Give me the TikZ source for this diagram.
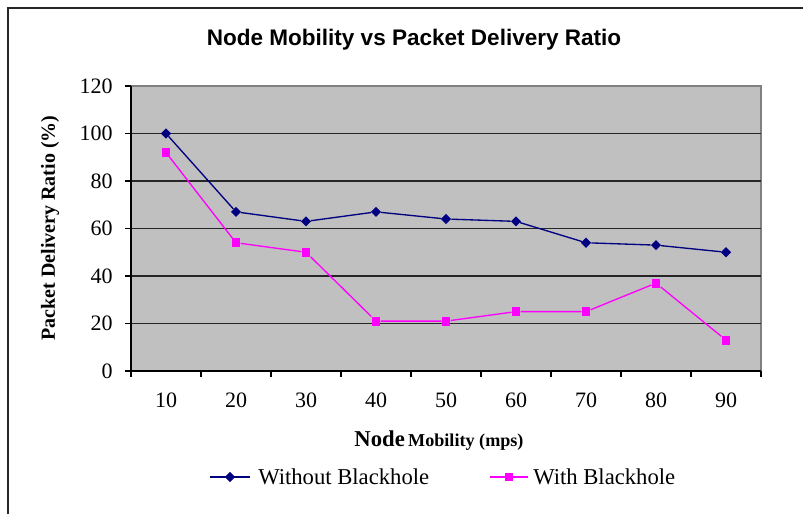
\documentclass[tikz,border=0pt]{standalone}
\usepackage{fontspec}
\setmainfont{Liberation Serif}
\newfontfamily\arialfont{Liberation Sans}
\usetikzlibrary{shapes.geometric}
\definecolor{pdrnavy}{RGB}{0,0,128}
\definecolor{pdrpink}{RGB}{255,0,255}
\definecolor{pdrgrey}{RGB}{192,192,192}
\definecolor{pdredge}{RGB}{128,128,128}
\begin{document}
\begin{tikzpicture}[x=0.75pt, y=-0.75pt,
  ylab/.style={font=\fontsize{16.5}{18}\selectfont, anchor=east, inner sep=0pt},
  xlab/.style={font=\fontsize{16.5}{18}\selectfont, inner sep=0pt},
  legtext/.style={font=\fontsize{17}{19}\selectfont, anchor=west, inner sep=0pt},
  grid/.style={line width=0.8pt, black!85},
  axis/.style={line width=0.8pt, black},
  wmark/.style={diamond, fill=pdrnavy, inner sep=0pt, minimum size=7.8pt},
  bmark/.style={rectangle, fill=pdrpink, inner sep=0pt, minimum size=6.6pt},
  wline/.style={line width=1pt, pdrnavy},
  bline/.style={line width=1pt, pdrpink}]
\useasboundingbox (0,0) rectangle (803,514);
\draw[line width=1.6pt, black!85] (8,514) -- (8,8) -- (803,8);
% title and axis titles
\node[font=\arialfont\bfseries\fontsize{16.9}{19}\selectfont] (title) at (414,40)
  {Node Mobility vs Packet Delivery Ratio};
\node[font=\bfseries\fontsize{15}{17}\selectfont, rotate=90] (ytitle) at (50,228)
  {Packet Delivery Ratio (\%)};
\node[font=\bfseries] (xtitle) at (439,441)
  {{\fontsize{17}{20}\selectfont Node} {\fontsize{13.6}{15}\selectfont Mobility (mps)}};
% plot area, 70px per category, 2.375px per percent
\begin{scope}[shift={(131,371)}, x=52.5pt, y=1.78125pt]
\fill[pdrgrey] (0,0) rectangle (9,120);
\draw[pdredge, line width=0.9pt] (0,120) -- (9,120) -- (9,0);
\foreach \v in {20,40,...,100} \draw[grid] (0,\v) -- (9,\v);
\draw[axis] (0,120) -- (0,0) -- (9,0);
\foreach \v in {0,20,...,120} {
  \draw[axis] (0,\v) -- +(-4.5pt,0);
  \node[ylab] (y\v) at (-0.26,\v) {\v};
}
\foreach \i in {0,...,9} \draw[axis] (\i,0) -- +(0,-4.5pt);
\foreach \c [count=\i] in {10,20,...,90}
  \node[xlab] (x\c) at (\i-0.5,-12.2) {\c};
% with blackhole
\node[bmark] (b1) at (0.5,92) {};  \node[bmark] (b2) at (1.5,54) {};
\node[bmark] (b3) at (2.5,50) {};  \node[bmark] (b4) at (3.5,21) {};
\node[bmark] (b5) at (4.5,21) {};  \node[bmark] (b6) at (5.5,25) {};
\node[bmark] (b7) at (6.5,25) {};  \node[bmark] (b8) at (7.5,37) {};
\node[bmark] (b9) at (8.5,13) {};
\draw[bline] (b1) -- (b2) -- (b3) -- (b4) -- (b5) -- (b6) -- (b7) -- (b8) -- (b9);
% without blackhole
\node[wmark] (w1) at (0.5,100) {}; \node[wmark] (w2) at (1.5,67) {};
\node[wmark] (w3) at (2.5,63) {};  \node[wmark] (w4) at (3.5,67) {};
\node[wmark] (w5) at (4.5,64) {};  \node[wmark] (w6) at (5.5,63) {};
\node[wmark] (w7) at (6.5,54) {};  \node[wmark] (w8) at (7.5,53) {};
\node[wmark] (w9) at (8.5,50) {};
\draw[wline] (w1) -- (w2) -- (w3) -- (w4) -- (w5) -- (w6) -- (w7) -- (w8) -- (w9);
\end{scope}
% legend
\coordinate (lwa) at (210,477); \coordinate (lwb) at (250,477);
\draw[wline] (lwa) -- (lwb);
\node[wmark] (lwm) at (230,477) {};
\node[legtext] (lwt) at (258,477) {Without Blackhole};
\coordinate (lba) at (490,477); \coordinate (lbb) at (528,477);
\draw[bline] (lba) -- (lbb);
\node[bmark] (lbm) at (509,477) {};
\node[legtext] (lbt) at (533,477) {With Blackhole};
\end{tikzpicture}
\end{document}
